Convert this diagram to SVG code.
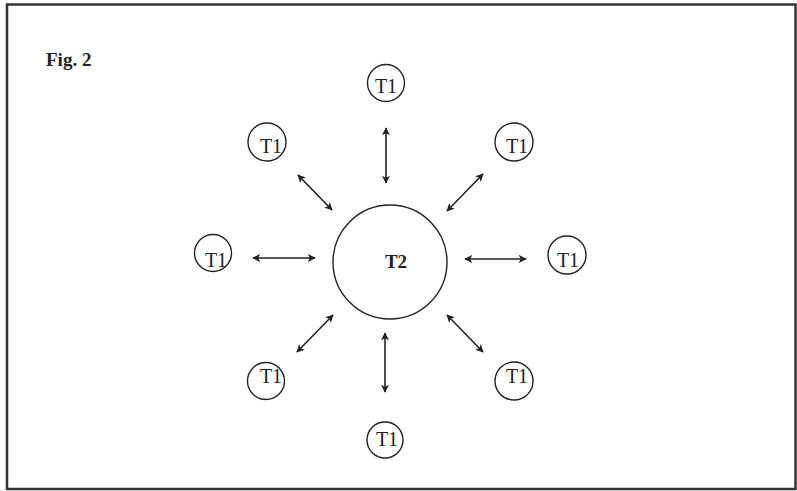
<svg xmlns="http://www.w3.org/2000/svg" width="797" height="491" viewBox="0 0 797 491">
<style>
.node{fill:none;stroke:#222;stroke-width:1.4}
.t1{font-family:"Liberation Serif",serif;font-size:20px;fill:#222;text-anchor:middle}
.t2{font-family:"Liberation Serif",serif;font-size:19px;font-weight:bold;fill:#222;text-anchor:middle}
.conn line{stroke:#222;stroke-width:1.6;marker-start:url(#ah);marker-end:url(#ah)}
</style>
<defs>
<marker id="ah" viewBox="0 0 10 10" refX="9" refY="5" markerWidth="5" markerHeight="5" orient="auto-start-reverse" markerUnits="strokeWidth">
<path d="M0,0 L10,5 L0,10 L2.5,5 Z" fill="#222"/>
</marker>
</defs>
<rect x="0" y="0" width="797" height="491" fill="#fff"/>
<rect x="7" y="4.5" width="788.5" height="484.5" fill="none" stroke="#333" stroke-width="2.5"/>
<text x="46" y="66" font-family="'Liberation Serif',serif" font-size="19" font-weight="bold" fill="#222">Fig. 2</text>
<g id="T2"><circle class="node" cx="390" cy="262" r="57"/><text class="t2" x="396" y="268">T2</text></g>
<g id="T1-top"><circle class="node" cx="386" cy="83" r="18.5"/><text class="t1" x="386" y="93">T1</text></g>
<g id="T1-upper-left"><circle class="node" cx="267" cy="142" r="19"/><text class="t1" x="271" y="153">T1</text></g>
<g id="T1-upper-right"><circle class="node" cx="514" cy="142" r="19"/><text class="t1" x="517" y="153">T1</text></g>
<g id="T1-left"><circle class="node" cx="213" cy="253" r="18.5"/><text class="t1" x="216" y="267">T1</text></g>
<g id="T1-right"><circle class="node" cx="567" cy="255" r="19"/><text class="t1" x="568" y="267">T1</text></g>
<g id="T1-lower-left"><circle class="node" cx="266" cy="381" r="18.5"/><text class="t1" x="271" y="383">T1</text></g>
<g id="T1-lower-right"><circle class="node" cx="514" cy="381" r="19"/><text class="t1" x="517" y="383">T1</text></g>
<g id="T1-bottom"><circle class="node" cx="385" cy="440" r="18"/><text class="t1" x="387" y="446">T1</text></g>
<g id="connectors" class="conn">
<line x1="386" y1="128" x2="386" y2="183"/>
<line x1="298" y1="175" x2="332" y2="210"/>
<line x1="483" y1="174" x2="447" y2="211"/>
<line x1="253" y1="258" x2="315" y2="258"/>
<line x1="465" y1="259" x2="526" y2="259"/>
<line x1="333" y1="315" x2="297" y2="352"/>
<line x1="447" y1="315" x2="483" y2="352"/>
<line x1="385" y1="333" x2="385" y2="392"/>
</g>
</svg>
